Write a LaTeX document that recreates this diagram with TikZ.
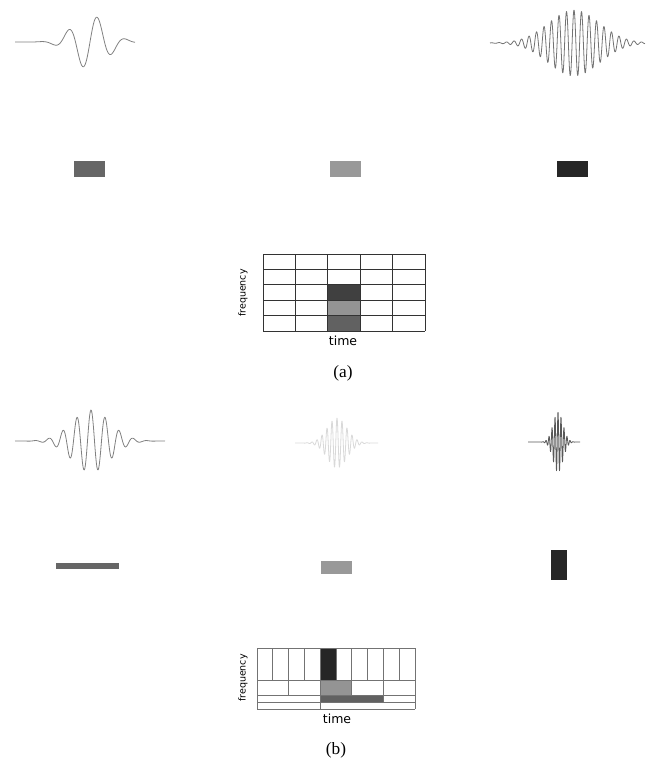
\documentclass[tikz,border=0pt]{standalone}
\usepackage{fontspec}
\setmainfont{Liberation Serif}
\setsansfont{DejaVu Sans}
\usepackage{tikz}

\tikzset{
	wave/.style={line width=0.8pt, line join=round},
	gridline/.style={line width=0.7pt},
	freqlabel/.style={font=\sffamily\fontsize{9.5}{11}\selectfont, inner sep=0pt},
	timelabel/.style={font=\sffamily\fontsize{12.5}{14}\selectfont, inner sep=0pt},
	panellabel/.style={font=\LARGE, inner sep=0pt}
}

\begin{document}
\begin{tikzpicture}[x=1pt, y=-1pt]
	\useasboundingbox (0,0) rectangle (650,762);
	% (a) wavelets and their boxes
	\begin{scope}
		\draw[wave, black!50, domain=15:135, samples=200] plot (\x, {42-27*exp(-((\x-90)/24)^2)*sin((360/29)*(\x-90))});
		\draw[wave, black!55, domain=490:645, samples=500] plot (\x, {43-33*exp(-((\x-574)/36)^2)*cos(48*(\x-574))});
		\fill[black!60] (74,161) rectangle (105,177);
		\fill[black!40] (330,161) rectangle (361,177);
		\fill[black!85] (557,161) rectangle (588,177);
		% tiling
		\fill[black!75] (327.8,285) rectangle (360.2,300.4);
		\fill[black!42] (327.8,300.4) rectangle (360.2,315.8);
		\fill[black!62] (327.8,315.8) rectangle (360.2,331);
		\foreach \i in {0,...,5} {\draw[gridline, black!80] ({263+32.4*\i},254) -- ({263+32.4*\i},331);}
		\foreach \j in {0,...,5} {\draw[gridline, black!80] (263,{254+15.4*\j}) -- (425,{254+15.4*\j});}
		\node[freqlabel, rotate=90] (freqA) at (243,293) {frequency};
		\node[timelabel] (timeA) at (343,341) {time};
		\node[panellabel] (capA) at (343,373) {(a)};
	\end{scope}
	% (b) wavelets and their boxes
	\begin{scope}
		\draw[wave, black!50, domain=15:165, samples=250] plot (\x, {441-31*exp(-((\x-91)/27)^2)*cos((360/14)*(\x-91))});
		\draw[wave, black!15, domain=295:378, samples=300] plot (\x, {443-25*exp(-((\x-337)/14)^2)*cos(72*(\x-337))});
		\draw[wave, black!65, domain=528:580, samples=300] plot (\x, {442-30*exp(-((\x-558)/7)^2)*cos(120*(\x-558))});
		\fill[black!60] (56,563) rectangle (119,569);
		\fill[black!40] (321,561) rectangle (352,574);
		\fill[black!85] (551,550) rectangle (567,580);
		% tiling
		\fill[black!85] (320.2,648) rectangle (336,680);
		\fill[black!42] (320.2,680) rectangle (351.8,695);
		\fill[black!62] (320.2,695) rectangle (383.4,702);
		\foreach \i in {0,...,10} {\draw[gridline, black!55] ({257+15.8*\i},648) -- ({257+15.8*\i},680);}
		\foreach \i in {0,...,5} {\draw[gridline, black!55] ({257+31.6*\i},680) -- ({257+31.6*\i},695);}
		\foreach \xx in {257,320.2,383.4,415} {\draw[gridline, black!55] (\xx,695) -- (\xx,702);}
		\foreach \xx in {257,320.2,415} {\draw[gridline, black!55] (\xx,702) -- (\xx,709);}
		\foreach \yy in {648,680,695,702,709} {\draw[gridline, black!55] (257,\yy) -- (415,\yy);}
		\node[freqlabel, rotate=90] (freqB) at (243,678) {frequency};
		\node[timelabel] (timeB) at (337,719) {time};
		\node[panellabel] (capB) at (336,750) {(b)};
	\end{scope}
\end{tikzpicture}
\end{document}
